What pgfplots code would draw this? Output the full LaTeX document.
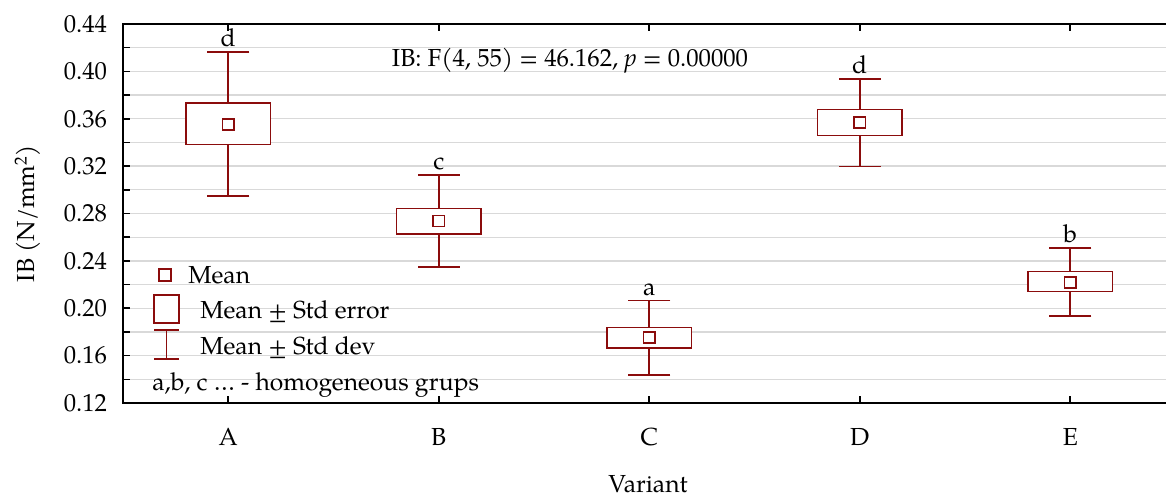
\documentclass[border=0pt]{standalone}
\usepackage{pgfplots}
\pgfplotsset{compat=1.18}
\usepackage{fontspec}
\setmainfont{TeX Gyre Pagella}
\definecolor{boxred}{RGB}{139,12,12}
\definecolor{gridgray}{RGB}{217,217,217}

\begin{document}
\begin{tikzpicture}[font=\fontsize{18.5}{22}\selectfont]
\begin{axis}[
  at={(0pt,0pt)}, anchor=south west,
  scale only axis,
  width=789.4pt, height=284.25pt,
  xmin=0.5, xmax=5.5,
  ymin=0.12, ymax=0.44,
  clip=false,
  unbounded coords=jump,
  xtick={1,2,3,4,5},
  xticklabels={A,B,C,D,E},
  ytick={0.12,0.16,0.20,0.24,0.28,0.32,0.36,0.40,0.44},
  minor ytick={0.14,0.18,0.22,0.26,0.30,0.34,0.38,0.42},
  ytick pos=left,
  tick align=inside,
  major tick length=5pt, minor tick length=5pt,
  ymajorgrids, yminorgrids,
  major grid style={gridgray, line width=1pt},
  minor grid style={gridgray, line width=1pt},
  axis line style={line width=1.4pt},
  tick style={black, line width=1.2pt},
  xticklabel style={anchor=base, yshift=-31.5pt},
  yticklabel style={anchor=east, inner sep=0pt, xshift=-11.8pt,
    /pgf/number format/.cd, fixed, fixed zerofill, precision=2, assume math mode=true},
]
% whiskers: mean +- std dev
\addplot[boxred, line width=1.2pt] coordinates {
  (1,0.2950) (1,0.4166) (1,nan)
  (2,0.2346) (2,0.3125) (2,nan)
  (3,0.1436) (3,0.2064) (3,nan)
  (4,0.3198) (4,0.3936) (4,nan)
  (5,0.1937) (5,0.2511)};
\addplot[only marks, mark=-, mark size=15.8pt, mark options={draw=boxred, line width=1.2pt}]
  coordinates {(1,0.2950) (1,0.4166) (2,0.2346) (2,0.3125) (3,0.1436) (3,0.2064)
               (4,0.3198) (4,0.3936) (5,0.1937) (5,0.2511)};
% boxes: mean +- std error
\addplot[draw=boxred, fill=white, line width=1.2pt] coordinates {(0.8,0.3384) (1.2,0.3384) (1.2,0.3733) (0.8,0.3733)} --cycle;
\addplot[draw=boxred, fill=white, line width=1.2pt] coordinates {(1.8,0.2626) (2.2,0.2626) (2.2,0.2843) (1.8,0.2843)} --cycle;
\addplot[draw=boxred, fill=white, line width=1.2pt] coordinates {(2.8,0.1662) (3.2,0.1662) (3.2,0.1839) (2.8,0.1839)} --cycle;
\addplot[draw=boxred, fill=white, line width=1.2pt] coordinates {(3.8,0.3460) (4.2,0.3460) (4.2,0.3677) (3.8,0.3677)} --cycle;
\addplot[draw=boxred, fill=white, line width=1.2pt] coordinates {(4.8,0.2143) (5.2,0.2143) (5.2,0.2311) (4.8,0.2311)} --cycle;
% means
\addplot[only marks, mark=square*, mark size=4.2pt,
  mark options={fill=white, draw=boxred, line width=1.2pt}]
  coordinates {(1,0.3553) (2,0.2737) (3,0.1752) (4,0.3570) (5,0.2219)};
% homogeneous groups
\addplot[draw=none, mark=none, nodes near coords, point meta=explicit symbolic,
  nodes near coords style={anchor=south, inner sep=3.5pt, text=black}]
  coordinates {(1,0.4166)[d] (2,0.3125)[c] (3,0.2064)[a] (4,0.3936)[d] (5,0.2511)[b]};
\end{axis}

% labels
\node[rotate=90, anchor=base] at (-66pt,142.1pt) {IB (N/mm\textsuperscript{2})};
\node[anchor=base] at (393.75pt,-66.75pt) {Variant};
\node[anchor=base] at (335.25pt,252pt) {IB: F(4, 55) = 46.162, \textit{p} = 0.00000};

% legend
\draw[boxred, line width=1.2pt, fill=white] (27pt,91.5pt) rectangle (36pt,100.5pt);
\draw[boxred, line width=1.2pt, fill=white] (23.25pt,60pt) rectangle (42pt,81pt);
\draw[boxred, line width=1.2pt] (23.25pt,54.75pt) -- (42pt,54.75pt)
  (23.25pt,33pt) -- (42pt,33pt) (32.6pt,54.75pt) -- (32.6pt,33pt);
\node[anchor=base west, inner sep=0pt] at (48.75pt,90pt) {Mean};
\node[anchor=base west, inner sep=0pt] at (57.75pt,63.75pt) {Mean ± Std error};
\node[anchor=base west, inner sep=0pt] at (57.75pt,36.75pt) {Mean ± Std dev};
\node[anchor=base west, inner sep=0pt] at (21.75pt,9.75pt) {a,b, c \ldots\ - homogeneous grups};

\pgfresetboundingbox
\path[use as bounding box] (-92.25pt,-70.5pt) rectangle (782.25pt,302.25pt);
\end{tikzpicture}
\end{document}
